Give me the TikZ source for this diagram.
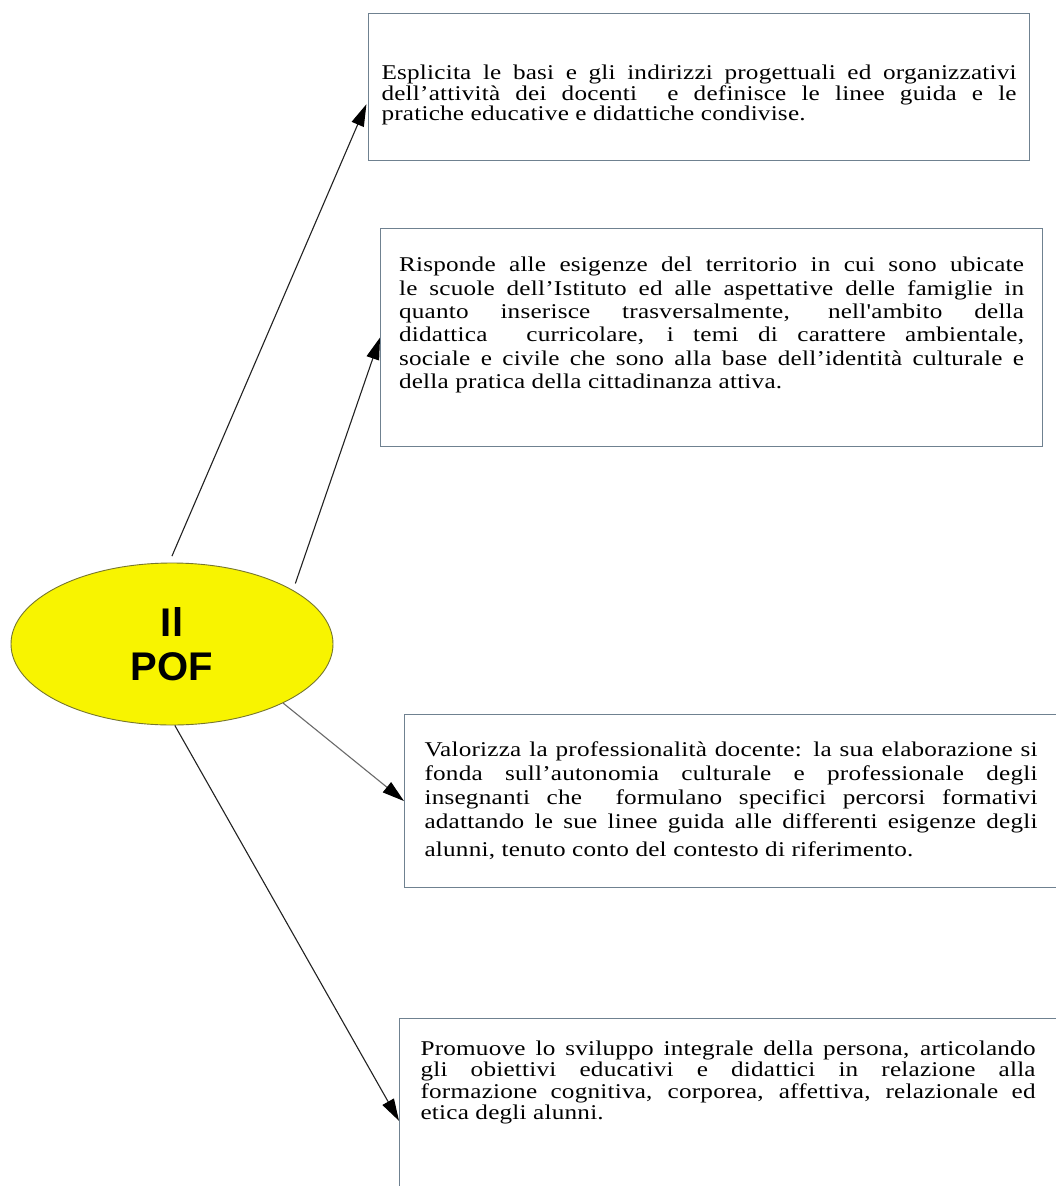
\documentclass[tikz,border=0pt]{standalone}
\usepackage{fontspec}
\setmainfont{Liberation Serif}
\newfontfamily\headfont{Liberation Sans}
\newfontfamily\cardfont[FakeStretch=1.2,LetterSpace=1]{Liberation Serif}
\usetikzlibrary{arrows.meta,shapes.geometric}
\definecolor{Frame}{HTML}{6F8190}
\definecolor{Lemon}{HTML}{F8F400}
\definecolor{Rim}{HTML}{76762E}
\definecolor{Shaft}{HTML}{222222}
\definecolor{Pale}{HTML}{6A6A6A}
\tikzset{
 card/.style={draw=Frame,fill=white,line width=1.1pt,anchor=north west,align=justify,
  font=\cardfont\fontsize{21}{#1}\selectfont},
 card/.default=21,
 hub/.style={ellipse,draw=Rim,fill=Lemon,line width=.9pt,align=center,
  font=\headfont\bfseries\fontsize{40}{44}\selectfont},
 link/.style={-{Triangle[length=22pt,width=13pt,color=black]},line width=1.1pt,draw=Shaft},
 }
\begin{document}
\begin{tikzpicture}[x=1pt,y=-1pt]
 \useasboundingbox (0,0) rectangle (1055,1186);
 \fill[white] (0,0) rectangle (1055,1186);
 % centre
 \node[hub,minimum width=322,minimum height=162] (pof) at (172,644) {Il\\POF};
 % boxes
 \node[card=20.5,minimum width=661,minimum height=147,text width=635] (basi) at (368,13)
  {\rule{0pt}{31pt}Esplicita le basi e gli indirizzi progettuali ed organizzativi\linebreak
   dell’attività dei docenti\ \ e definisce le linee guida e le\linebreak
   pratiche educative e didattiche condivise.};
 \node[card=23.3,minimum width=662,minimum height=218,text width=625] (territorio) at (380,228)
  {Risponde alle esigenze del territorio in cui sono ubicate\linebreak
   le scuole dell’Istituto ed alle aspettative delle famiglie in\linebreak
   quanto inserisce trasversalmente, nell'ambito della\linebreak
   didattica\ \ curricolare, i temi di carattere ambientale,\linebreak
   sociale e civile che sono alla base dell’identità culturale e\linebreak
   della pratica della cittadinanza attiva.\par\vspace{6pt}\null};
 \node[card=24,inner xsep=20,minimum height=173,text width=613] (docenti) at (404,714)
  {Valorizza la professionalità docente: la sua elaborazione si\linebreak
   fonda sull’autonomia culturale e professionale degli\linebreak
   insegnanti che\ \ formulano specifici percorsi formativi\linebreak
   adattando le sue linee guida alle differenti esigenze degli\vadjust{\vskip4pt}\linebreak
   alunni, tenuto conto del contesto di riferimento.};
 \node[card=21.5,inner xsep=21,inner ysep=22,text width=615] (persona) at (399,1018)
  {Promuove lo sviluppo integrale della persona, articolando\linebreak
   gli obiettivi educativi e didattici in relazione alla\linebreak
   formazione cognitiva, corporea, affettiva, relazionale ed\linebreak
   etica degli alunni.\par\vspace{60pt}\null};
 % arrows
 \draw[link,shorten <=7pt,shorten >=4pt] (pof.92) -- ([yshift=-13.5pt]basi.west);
 \draw[link,shorten <=7pt] (pof.24) -- (territorio.west);
 \draw[link,draw=Pale] (pof.-28) -- (docenti.west);
 \draw[link] (pof.-88) -- (persona.west);
\end{tikzpicture}
\end{document}
